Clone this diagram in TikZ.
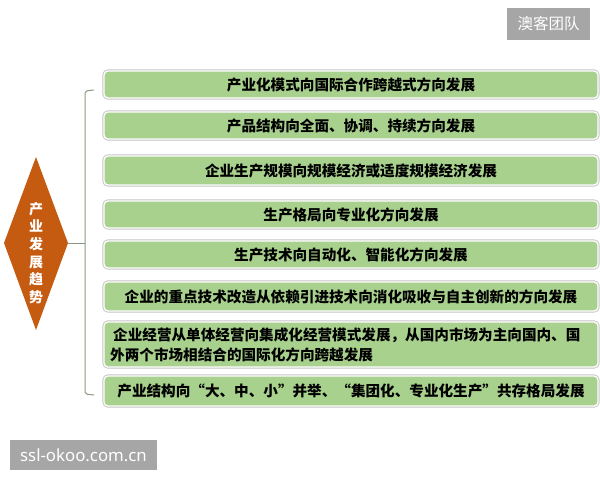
\documentclass[tikz,border=0pt]{standalone}
\usepackage{fontspec}
\newfontfamily\cjk{Noto Sans CJK SC}
\newfontfamily\latinsans{Noto Sans}
\definecolor{boxgreen}{HTML}{A9D18E}
\definecolor{diamondorange}{HTML}{C55A11}
\definecolor{brackcol}{HTML}{8C9A80}
\definecolor{markgray}{HTML}{A6A6A6}
\begin{document}
\begin{tikzpicture}[x=1pt,y=-1pt,
  trendbox/.style={draw=white, line width=1.3pt, fill=boxgreen, rounded corners=4pt,
     preaction={draw=gray!45, line width=3.2pt}},
  trendtext/.style={font=\cjk\bfseries\fontsize{14.6}{18}\selectfont, text=black, inner sep=0pt},
  brack/.style={draw=brackcol, line width=1pt},
  mark/.style={fill=markgray, draw=none, inner sep=0pt}
]
\useasboundingbox (0,0) rectangle (600,480);
\fill[white] (0,0) rectangle (600,480);

% watermarks
\fill[markgray] (507,8) rectangle (590,40);
\node[text=white, font=\cjk\fontsize{15.5}{18}\selectfont, inner sep=0pt] (wm1) at (548.5,24) {澳客团队};
\fill[markgray] (10,440) rectangle (157,470);
\node[text=white, font=\latinsans\fontsize{16.8}{18}\selectfont, inner sep=0pt] (wm2) at (83.5,455) {ssl-okoo.com.cn};

% diamond
\path[fill=diamondorange] (36,157) -- (68,243) -- (36,330) -- (4,243) -- cycle;
\coordinate (dtip) at (68,243);
\node[text=white, font=\cjk\bfseries\fontsize{14}{17.7}\selectfont, align=center, inner sep=0pt] (dtext) at (36,253)
  {产\\业\\发\\展\\趋\\势};

% bracket
\coordinate (bt) at (94,90);
\coordinate (bb) at (94,395);
\coordinate (bm) at (85,243);
\draw[brack, rounded corners=2pt] (bt) -- (85,91) -- (85,394) -- (bb);
\draw[brack] (dtip) -- (bm);

% boxes
\draw[trendbox] (104,71) rectangle (598,98);
\node[trendtext] (t1) at (351,84.5) {产业化模式向国际合作跨越式方向发展};
\draw[trendbox] (104,112) rectangle (598,139);
\node[trendtext] (t2) at (351,125.5) {产品结构向全面、协调、持续方向发展};
\draw[trendbox] (104,156) rectangle (598,185);
\node[trendtext] (t3) at (351,170.5) {企业生产规模向规模经济或适度规模经济发展};
\draw[trendbox] (104,201) rectangle (598,228);
\node[trendtext] (t4) at (351,214.5) {生产格局向专业化方向发展};
\draw[trendbox] (104,241) rectangle (598,268);
\node[trendtext] (t5) at (351,254.5) {生产技术向自动化、智能化方向发展};
\draw[trendbox] (104,282) rectangle (598,311);
\node[trendtext] (t6) at (351,296.5) {企业的重点技术改造从依赖引进技术向消化吸收与自主创新的方向发展};
\draw[trendbox] (104,322) rectangle (598,367);
\node[trendtext, anchor=west, align=left, font=\cjk\bfseries\fontsize{14.6}{20}\selectfont] (t7) at (110,344.5)
  {\hspace{3pt}企业经营从单体经营向集成化经营模式发展，从国内市场为主向国内、国\\外两个市场相结合的国际化方向跨越发展};
\draw[trendbox] (104,376) rectangle (598,406);
\node[trendtext] (t8) at (351,391) {产业结构向“大、中、小”并举、“集团化、专业化生产”共存格局发展};
\end{tikzpicture}
\end{document}
